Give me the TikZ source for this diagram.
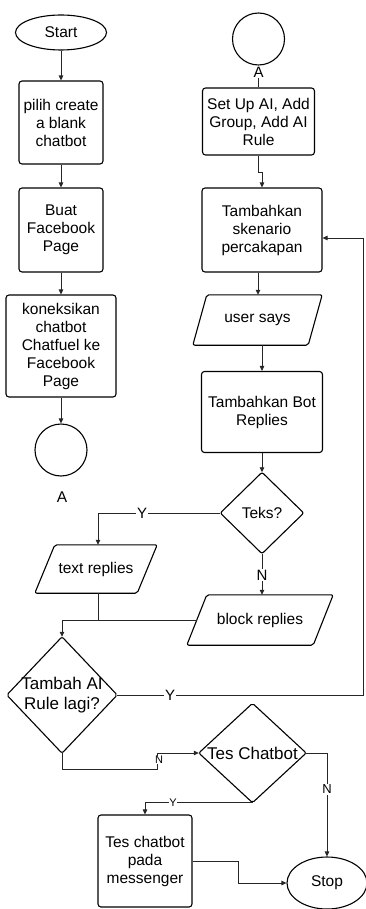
\documentclass[tikz,border=0pt]{standalone}
\usepackage{fontspec}
\setmainfont{Liberation Sans}
\usetikzlibrary{arrows.meta,shapes.geometric,calc}
\begin{document}
\begin{tikzpicture}[x=1pt,y=-1pt,
  txt/.style={font=\fontsize{15.5}{18}\selectfont, align=center, inner sep=0pt},
  bigtxt/.style={font=\fontsize{17}{20}\selectfont, align=center, inner sep=0pt},
  proc/.style={txt, draw, rounded corners=3pt, line width=1.1pt},
  term/.style={txt, draw, ellipse, line width=1.1pt},
  conn/.style={txt, draw, circle, line width=1.1pt, minimum size=52pt},
  outline/.style={line width=1.1pt, line join=round, rounded corners=2pt},
  flow/.style={line width=0.8pt, draw=black!85},
  arr/.style={flow, -{Triangle[length=5pt,width=4.5pt]}},
  lbl/.style={font=\fontsize{15}{18}\selectfont, fill=white, inner sep=1pt},
  slbl/.style={font=\fontsize{11}{13}\selectfont, fill=white, inner sep=0.5pt},
  mlbl/.style={font=\fontsize{13}{15}\selectfont, fill=white, inner sep=1pt}
]
\useasboundingbox (0,0) rectangle (366,909);

% left column
\node[term, minimum width=91pt, minimum height=35pt] (start) at (61,32.5) {Start};
\node[proc, minimum width=84pt, minimum height=83pt] (b1) at (61,122.5) {pilih create\\a blank\\chatbot};
\node[proc, minimum width=84pt, minimum height=84pt] (b2) at (61,230) {Buat\\Facebook\\Page};
\node[proc, minimum width=110pt, minimum height=102pt] (b3) at (61,346) {koneksikan\\chatbot\\Chatfuel ke\\Facebook\\Page};
\node[conn] (cA) at (61,450) {};
\node[txt] (lblA) at (62,497) {A};

% right column
\node[conn] (cA2) at (258.5,39) {};
\node[proc, minimum width=112pt, minimum height=67pt] (setup) at (258.5,121.5) {Set Up AI, Add\\Group, Add AI\\Rule};
\node[proc, minimum width=120pt, minimum height=84pt] (tamb) at (262,230) {Tambahkan\\skenario\\percakapan};
\node[txt, minimum width=129pt, minimum height=50pt] (user) at (257.5,320) {user says};
\node[proc, minimum width=121pt, minimum height=81pt] (bot) at (262,412) {Tambahkan Bot\\Replies};
\node[txt, minimum width=83pt, minimum height=81pt] (teks) at (262,513) {Teks?};
\node[txt, minimum width=122pt, minimum height=48pt] (textr) at (96,569) {text replies};
\node[txt, minimum width=146pt, minimum height=50pt] (blockr) at (260,620) {block replies};
\node[bigtxt, minimum width=110pt, minimum height=116pt] (tambah) at (62,695) {Tambah AI\\Rule lagi?};
\node[bigtxt, minimum width=107pt, minimum height=99pt] (tes) at (252.5,753) {Tes Chatbot};
\node[proc, minimum width=94pt, minimum height=92pt] (tesbox) at (145,861) {Tes chatbot\\pada\\messenger};
\node[term, minimum width=80pt, minimum height=52pt] (stop) at (327,883) {Stop};

% outlines of diamonds and parallelograms
\draw[outline] (teks.north) -- (teks.east) -- (teks.south) -- (teks.west) -- cycle;
\draw[outline] (tambah.north) -- (tambah.east) -- (tambah.south) -- (tambah.west) -- cycle;
\draw[outline] (tes.north) -- (tes.east) -- (tes.south) -- (tes.west) -- cycle;
\draw[outline] ($(user.north west)+(14,0)$) -- (user.north east) -- ($(user.south east)-(14,0)$) -- (user.south west) -- cycle;
\draw[outline] ($(textr.north west)+(20,0)$) -- (textr.north east) -- ($(textr.south east)-(20,0)$) -- (textr.south west) -- cycle;
\draw[outline] ($(blockr.north west)+(20,0)$) -- (blockr.north east) -- ($(blockr.south east)-(20,0)$) -- (blockr.south west) -- cycle;

% connectors left
\draw[arr] (start) -- (b1);
\draw[arr] (b1) -- (b2);
\draw[arr] (b2) -- (b3);
\draw[arr] (b3) -- (cA);

% connectors right
\draw[flow] (cA2.south) -- node[lbl, pos=0.3]{A} (setup.north);
\draw[arr] (setup.south) -- ++(0,17) -| (tamb.north);
\draw[arr] ($(tamb.south)+(-4,0)$) -- ($(user.north)+(0.5,0)$);
\draw[arr] ($(user.south)+(4.5,0)$) -- (bot.north);
\draw[arr] (bot.south) -- (teks.north);
\draw[arr] (teks.west) -| node[lbl, pos=0.32]{Y} ($(textr.north)+(2,0)$);
\draw[arr] (teks.south) -- node[lbl, pos=0.52]{N} (teks.south |- blockr.north);
\coordinate (merge) at ($(textr.south)+(2,27)$);
\draw[flow] ($(textr.south)+(2,0)$) -- (merge);
\draw[arr] ($(blockr.west)+(10,0)$) -| (tambah.north);

% loop back
\coordinate (loopc) at (363,695);
\draw[arr] (tambah.east) -- node[lbl, pos=0.215]{Y} (loopc) |- ($(tamb.east)+(0,8)$);

% tambah N
\coordinate (n1) at (62,769);
\coordinate (n2) at (157,769);
\coordinate (n3) at (157,753);
\draw[arr] (tambah.south) -- (n1) -- (n2) -- node[slbl, pos=0.55, xshift=2pt]{N} (n3) -- (tes.west);

% tes chatbot
\draw[arr] (tes.east) -| node[mlbl, pos=0.675]{N} (stop.north);
\draw[arr] (tes.south) -| node[slbl, pos=0.37]{Y} (tesbox.north);
\coordinate (t1) at (238,861);
\draw[arr] (tesbox.east) -- (t1) |- (stop.west);
\end{tikzpicture}
\end{document}
